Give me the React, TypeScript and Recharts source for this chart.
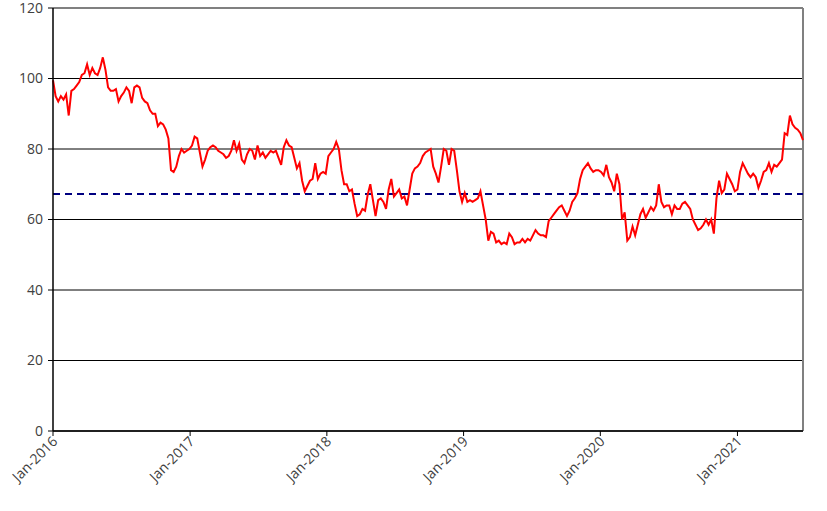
import React from "react";
import {
  CartesianGrid,
  Line,
  LineChart,
  ReferenceLine,
  XAxis,
  YAxis,
} from "recharts";

// weekly closes, starting 1 Jan 2016
const v2016 = [
  99.5, 95, 93.5, 95, 94, 95.5, 89.5, 96.5, 97, 98, 99, 101, 101.5, 104, 101,
  103, 101.5, 101, 103, 106, 102.5, 97.5, 96.5, 96.5, 97, 93.5, 95, 96, 97.5,
  96.5, 93, 97.5, 98, 97.5, 94.5, 93.5, 93, 91, 90, 90, 86.5, 87.5, 87, 85.5,
  83, 74, 73.5, 75, 78, 80, 79, 79.5,
];
const v2017 = [
  80, 81, 83.5, 83, 79, 75, 77, 79.5, 80.5, 81, 80.5, 79.5, 79, 78.5, 77.5, 78,
  79.5, 82.5, 79.5, 81.5, 77, 76, 78.5, 80, 79.5, 77, 81, 78, 79, 77.5, 78.5,
  79.5, 79, 79.5, 77.5, 75.5, 80.5, 82.5, 81, 80.5, 77.5, 74.5, 76, 71, 68,
  69.5, 71, 71.5, 76, 71.5, 73, 73.5, 73,
];
const v2018 = [
  78, 79, 80, 82, 80, 74, 70, 70, 68, 68.5, 64.5, 61, 61.5, 63, 62.5, 67, 70,
  65.5, 61, 65.5, 66, 65, 63, 68.5, 71.5, 66.5, 67.5, 68.5, 66, 66.5, 64, 68.5,
  73, 74.5, 75, 76, 78, 79, 79.5, 80, 75, 73, 70.5, 75, 80, 79.5, 75.5, 80,
  79.5, 74, 68, 65,
];
const v2019 = [
  67.5, 65, 65.5, 65, 65.5, 66, 68, 64, 60, 54, 56.5, 56, 53.5, 54, 53, 53.5,
  53, 56, 55, 53, 53.5, 53.5, 54.5, 53.5, 54.5, 54, 55.5, 57, 56, 55.5, 55.5,
  55, 59.5, 60.5, 61.5, 62.5, 63.5, 64, 62.5, 61, 62.5, 65, 66, 67.5, 71.5, 74,
  75, 76, 74.5, 73.5, 74, 74,
];
const v2020 = [
  73.5, 72.5, 75.5, 72, 70.5, 68, 73, 70, 60, 62, 54, 55, 58, 55.5, 58.5, 61.5,
  63, 60.5, 62, 63.5, 62.5, 64, 70, 65, 63.5, 64, 64, 61.5, 64, 63, 63, 64.5,
  65, 64, 63, 60, 58.5, 57, 57.5, 58.5, 60, 58.5, 60, 56, 66, 71, 67.5, 68.5,
  73, 71.5, 70, 68, 68.5,
];
const v2021 = [
  73.5, 76, 74.5, 73, 72, 73, 72, 69, 71, 73.5, 74, 76, 73.5, 75.5, 75, 76, 77,
  84.5, 84, 89.5, 87, 86, 85.5, 84.5, 82.5,
];

const average = 67.2;
const yTicks = [0, 20, 40, 60, 80, 100, 120];
const tickYears = [2016, 2017, 2018, 2019, 2020, 2021];

const START = Date.UTC(2016, 0, 1);
const WEEK = 7 * 24 * 3600 * 1000;

const data = [...v2016, ...v2017, ...v2018, ...v2019, ...v2020, ...v2021].map(
  (v, i) => ({ t: START + i * WEEK, v }),
);
const END = data[data.length - 1].t;
const xTicks = tickYears.map((y) => Date.UTC(y, 0, 1));

const FONT = "'Open Sans', 'Segoe UI', sans-serif";

const XTick = ({ x, y, payload }: any) => {
  const year = new Date(payload.value).getUTCFullYear();
  return (
    <g transform={`translate(${x - 1},${y - 2})`}>
      <text
        x={0}
        y={0}
        dy={9}
        textAnchor="end"
        transform="rotate(-45)"
        fill="#404040"
        fontSize={14}
        fontFamily={FONT}
      >
        {`Jan-${year}`}
      </text>
    </g>
  );
};

export default function App() {
  return (
    <div style={{ position: "absolute", left: 0, top: 0, background: "#fff" }}>
      <LineChart
        width={827}
        height={511}
        data={data}
        margin={{ top: 8, right: 24, left: 0, bottom: 0 }}
      >
        <CartesianGrid vertical={false} stroke="#000" strokeWidth={1} />
        <XAxis
          dataKey="t"
          type="number"
          scale="time"
          domain={[START, END]}
          ticks={xTicks}
          height={80}
          tickSize={5}
          axisLine={{ stroke: "#000", strokeWidth: 1.5 }}
          tickLine={{ stroke: "#000" }}
          tick={<XTick />}
          interval={0}
        />
        <YAxis
          type="number"
          domain={[0, 120]}
          ticks={yTicks}
          width={53}
          tickSize={5}
          tickMargin={5}
          axisLine={{ stroke: "#000", strokeWidth: 1.5 }}
          tickLine={{ stroke: "#000" }}
          tick={{ fill: "#404040", fontSize: 14, fontFamily: FONT }}
          interval={0}
        />
        <ReferenceLine y={120} stroke="#808080" strokeWidth={2} />
        <ReferenceLine x={END} stroke="#808080" strokeWidth={2} />
        <ReferenceLine
          y={average}
          stroke="#000080"
          strokeWidth={2}
          strokeDasharray="7 5"
        />
        <Line
          type="linear"
          dataKey="v"
          stroke="#ff0000"
          strokeWidth={2}
          dot={false}
          isAnimationActive={false}
        />
      </LineChart>
    </div>
  );
}
